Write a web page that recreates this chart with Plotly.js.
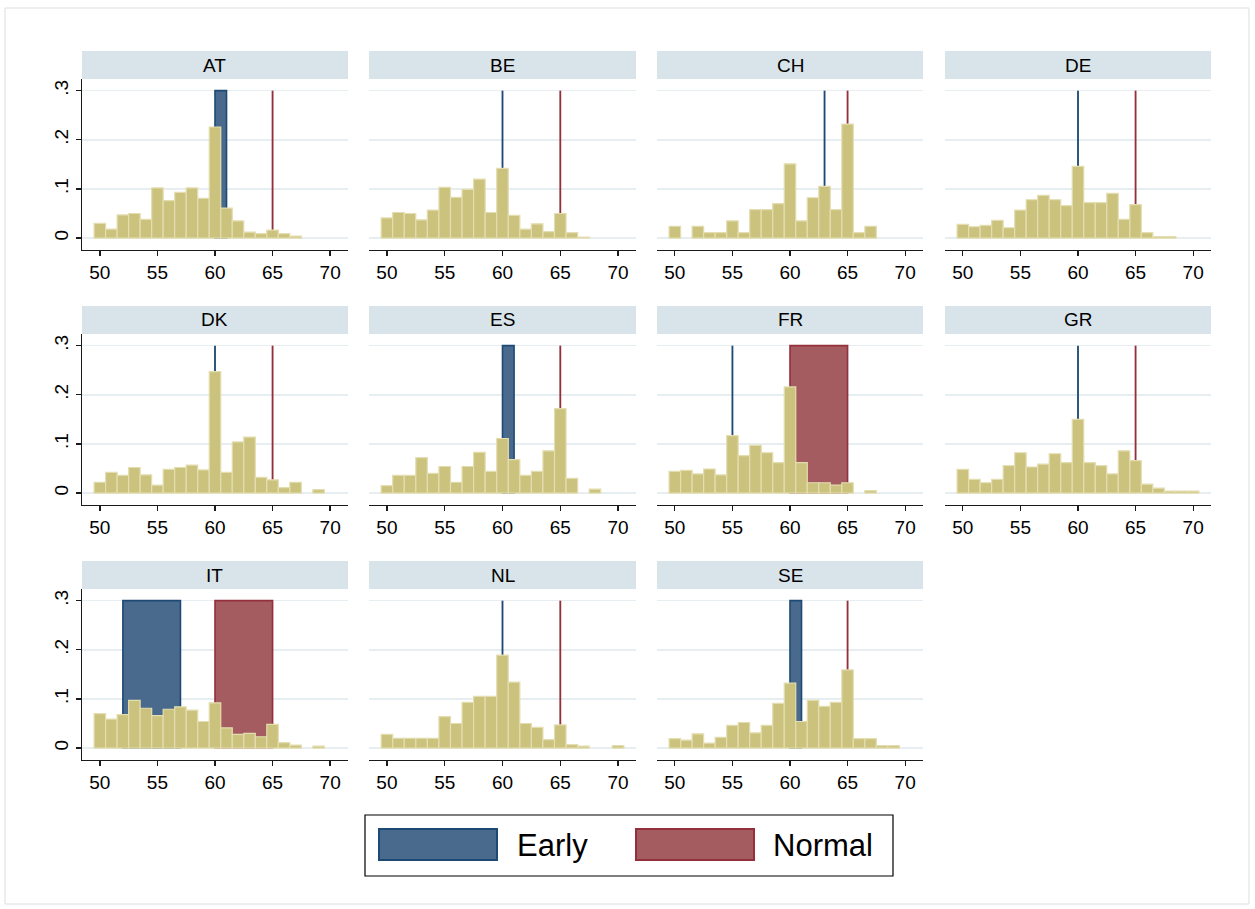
<!DOCTYPE html>
<html>
<head>
<meta charset="utf-8">
<script src="https://cdn.plot.ly/plotly-3.0.1.min.js"></script>
<style>html,body{margin:0;padding:0;background:#fff;}#chart{width:1255px;height:909px;}</style>
</head>
<body>
<div id="chart"></div>
<script>
// ---------------- data ----------------
const countries = ['AT','BE','CH','DE','DK','ES','FR','GR','IT','NL','SE'];
const ages = [50,51,52,53,54,55,56,57,58,59,60,61,62,63,64,65,66,67,68,69,70];

const densAT = [0.030,0.018,0.047,0.050,0.038,0.102,0.076,0.093,0.102,0.081,0.226,0.061,0.035,0.012,0.009,0.016,0.009,0.004,null,null,null];
const densBE = [0.041,0.052,0.050,0.037,0.057,0.103,0.083,0.099,0.120,0.052,0.142,0.046,0.018,0.029,0.013,0.050,0.011,0.002,null,null,null];
const densCH = [0.024,null,0.024,0.011,0.011,0.035,0.011,0.058,0.058,0.070,0.151,0.035,0.082,0.105,0.058,0.232,0.011,0.024,null,null,null];
const densDE = [0.028,0.023,0.026,0.036,0.021,0.057,0.078,0.087,0.078,0.066,0.146,0.072,0.072,0.091,0.038,0.068,0.011,0.003,0.003,null,null];
const densDK = [0.022,0.042,0.036,0.052,0.037,0.016,0.048,0.052,0.057,0.047,0.247,0.042,0.104,0.114,0.032,0.027,0.011,0.022,null,0.007,null];
const densES = [0.015,0.036,0.036,0.072,0.040,0.054,0.022,0.054,0.083,0.044,0.111,0.068,0.036,0.044,0.086,0.172,0.030,null,0.008,null,null];
const densFR = [0.044,0.046,0.039,0.049,0.037,0.117,0.076,0.097,0.082,0.062,0.216,0.062,0.021,0.021,0.016,0.021,null,0.005,null,null,null];
const densGR = [0.048,0.028,0.021,0.028,0.056,0.082,0.053,0.059,0.080,0.062,0.150,0.062,0.056,0.039,0.086,0.066,0.018,0.010,0.004,0.004,0.004];
const densIT = [0.070,0.059,0.068,0.097,0.081,0.066,0.079,0.084,0.077,0.054,0.092,0.041,0.028,0.030,0.023,0.048,0.011,0.006,null,0.004,null];
const densNL = [0.028,0.020,0.020,0.020,0.020,0.064,0.050,0.093,0.105,0.105,0.189,0.134,0.050,0.042,0.017,0.047,0.007,0.004,null,null,0.005];
const densSE = [0.019,0.016,0.029,0.010,0.022,0.046,0.052,0.031,0.046,0.091,0.132,0.054,0.097,0.085,0.093,0.159,0.019,0.019,0.005,0.005,null];

// statutory ages: early / normal retirement (lo == hi -> single age line)
const earlyLo  = [60,60,63,60,60,60,55,60,52,60,60];
const earlyHi  = [61,60,63,60,60,61,55,60,57,60,61];
const normalLo = [65,65,65,65,65,65,60,65,60,65,65];
const normalHi = [65,65,65,65,65,65,65,65,65,65,65];
const bandTop = 0.3;

const xTicks = [50,55,60,65,70];
const yTicks = [0,0.1,0.2,0.3];
const yTickText = ['0','.1','.2','.3'];
const legendLabels = ['Early','Normal'];

const densities = {AT:densAT,BE:densBE,CH:densCH,DE:densDE,DK:densDK,ES:densES,FR:densFR,GR:densGR,IT:densIT,NL:densNL,SE:densSE};

// ---------------- style / layout ----------------
const W = 1255, H = 909;
const FONT = 'Liberation Sans, Arial, sans-serif';
const colPx = [[82,348],[369,636],[657,923],[945,1211]];
const rowTop = [79,334,589];
const rowBot = [250,505,760];
const hdrTop = [51,306,561];

const histFill = '#cbc27e', histLine = '#e4ddb0';
const earlyFill = '#496a8c', earlyLine = '#1d4a74';
const normalFill = '#a45c61', normalLine = '#93303b';
const axisCol = '#1a1a1a';
const gridCol = '#e6eef1';
const lineW = 0.16; // width of single-age marker line, in axis units

const px = v => v / W;
const py = v => 1 - v / H;

const traces = [];
const layout = {
  width: W, height: H,
  margin: {l:0,r:0,t:0,b:0},
  paper_bgcolor: '#ffffff',
  plot_bgcolor: '#ffffff',
  showlegend: false,
  barmode: 'overlay',
  hovermode: false,
  font: {family: FONT, size: 19, color: '#000'},
  shapes: [],
  annotations: []
};

countries.forEach((c, i) => {
  const r = Math.floor(i / 4), k = i % 4;
  const n = i + 1;
  const xa = 'x' + (n === 1 ? '' : n), ya = 'y' + (n === 1 ? '' : n);
  const xKey = 'xaxis' + (n === 1 ? '' : n), yKey = 'yaxis' + (n === 1 ? '' : n);

  layout[xKey] = {
    domain: [px(colPx[k][0]), px(colPx[k][1])],
    anchor: ya,
    range: [48.45, 71.55],
    tickmode: 'array', tickvals: xTicks, ticktext: xTicks.map(String),
    ticks: 'outside', ticklen: 5, tickwidth: 1.3, tickcolor: axisCol,
    showline: true, linecolor: axisCol, linewidth: 1.3,
    showgrid: false, zeroline: false, automargin: false,
    tickfont: {family: FONT, size: 19, color: '#000'}, fixedrange: true
  };
  layout[yKey] = {
    domain: [py(rowBot[r]), py(rowTop[r])],
    anchor: xa,
    range: [-0.0243, 0.3237],
    tickmode: 'array', tickvals: yTicks, ticktext: yTickText,
    showgrid: true, gridcolor: gridCol, gridwidth: 1.5,
    zeroline: false, automargin: false, fixedrange: true,
    showline: k === 0, linecolor: axisCol, linewidth: 1.3,
    ticks: k === 0 ? 'outside' : '', ticklen: 5, tickwidth: 1.3, tickcolor: axisCol,
    showticklabels: k === 0, tickangle: -90,
    tickfont: {family: FONT, size: 19, color: '#000'}
  };

  // early / normal markers (behind histogram)
  const marks = [
    [earlyLo[i], earlyHi[i], earlyFill, earlyLine],
    [normalLo[i], normalHi[i], normalFill, normalLine]
  ];
  marks.forEach(([lo, hi, fill, line]) => {
    if (hi > lo) {
      traces.push({type:'bar', x:[(lo+hi)/2], y:[bandTop], base:[0], width:[hi-lo],
        xaxis: xa, yaxis: ya, marker:{color: fill, line:{color: line, width: 1.6}}, hoverinfo:'skip'});
    } else {
      traces.push({type:'bar', x:[lo], y:[bandTop], base:[0], width:[lineW],
        xaxis: xa, yaxis: ya, marker:{color: line, line:{width: 0}}, hoverinfo:'skip'});
    }
  });

  // histogram
  traces.push({type:'bar', x: ages, y: densities[c], width: 1,
    xaxis: xa, yaxis: ya,
    marker:{color: histFill, line:{color: histLine, width: 1.2}}, hoverinfo:'skip'});

  // header strip
  layout.shapes.push({type:'rect', xref:'paper', yref:'paper',
    x0: px(colPx[k][0]), x1: px(colPx[k][1]), y0: py(rowTop[r]), y1: py(hdrTop[r]),
    fillcolor:'#d8e4ea', line:{width:0}, layer:'below'});
  layout.annotations.push({xref:'paper', yref:'paper',
    x: px((colPx[k][0]+colPx[k][1])/2), y: py((rowTop[r]+hdrTop[r])/2),
    text: c, showarrow:false, xanchor:'center', yanchor:'middle',
    font:{family: FONT, size: 19, color:'#000'}});
});

// outer frame
layout.shapes.push({type:'rect', xref:'paper', yref:'paper',
  x0: px(5), x1: px(1249), y0: py(904), y1: py(8),
  line:{color:'#dddddd', width:1}, fillcolor:'rgba(0,0,0,0)', layer:'below'});

// legend box
layout.shapes.push({type:'rect', xref:'paper', yref:'paper',
  x0: px(365), x1: px(893), y0: py(876), y1: py(815),
  line:{color:'#000', width:1.2}, fillcolor:'#fff', layer:'below'});
layout.shapes.push({type:'rect', xref:'paper', yref:'paper',
  x0: px(379), x1: px(497), y0: py(860), y1: py(829),
  line:{color: earlyLine, width:2}, fillcolor: earlyFill});
layout.shapes.push({type:'rect', xref:'paper', yref:'paper',
  x0: px(636), x1: px(754), y0: py(860), y1: py(829),
  line:{color: normalLine, width:2}, fillcolor: normalFill});
layout.annotations.push({xref:'paper', yref:'paper', x: px(515), y: py(845),
  text: legendLabels[0], showarrow:false, xanchor:'left', yanchor:'middle',
  font:{family: FONT, size: 31, color:'#000'}});
layout.annotations.push({xref:'paper', yref:'paper', x: px(771), y: py(845),
  text: legendLabels[1], showarrow:false, xanchor:'left', yanchor:'middle',
  font:{family: FONT, size: 31, color:'#000'}});

Plotly.newPlot('chart', traces, layout, {staticPlot: true, displayModeBar: false});
</script>
</body>
</html>
